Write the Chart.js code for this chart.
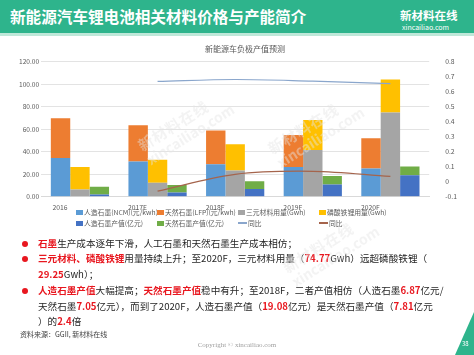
<!DOCTYPE html>
<html>
<head>
<meta charset="utf-8">
<script src="https://cdn.jsdelivr.net/npm/chart.js@4.4.0/dist/chart.umd.min.js"></script>
<style>
  html, body { margin: 0; padding: 0; background: #fff; }
  body { width: 474px; height: 355px; position: relative; overflow: hidden;
         font-family: "Noto Sans CJK SC", "Noto Sans", sans-serif; }
  .header { position: absolute; left: 0; top: 0; width: 474px; height: 33px; background: #2eb48c; }
  .header-line { position: absolute; left: 0; top: 33px; width: 474px; height: 3px; background: #bfe8d9; }
  .title { position: absolute; left: 10px; top: 5px; color: #fff; font-size: 15.6px; font-weight: bold; white-space: nowrap; }
  .logo1 { position: absolute; left: 400px; top: 7px; color: #fff; font-size: 11.5px; font-weight: bold; white-space: nowrap; }
  .logo2 { position: absolute; left: 402px; top: 22px; color: #fff; font-size: 7px; white-space: nowrap; }
  #chartBox { position: absolute; left: 0; top: 38px; width: 474px; height: 179px; }
  #legend { position: absolute; left: 76px; top: 207px; width: 330px; font-size: 6.8px; color: #595959; }
  .lg-item { position: absolute; white-space: nowrap; display: flex; align-items: center; }
  .lg-sw { display: inline-block; margin-right: 1px; }
  .line { position: absolute; left: 38px; font-size: 9.6px; color: #262626; white-space: nowrap; }
  .red { color: #e8171f; font-weight: bold; }
  .dot { position: absolute; left: 22px; width: 6px; height: 6px; border-radius: 50%; background: #e8171f; }
  .src { position: absolute; left: 20px; top: 329px; font-size: 7px; color: #404040; white-space: nowrap; }
  .copy { position: absolute; left: 0; width: 474px; top: 341px; text-align: center; font-family: "Liberation Serif", serif; font-size: 7px; color: #a0a0a0; }
  .corner { position: absolute; left: 455px; top: 312px; width: 19px; height: 43px; background: #2eb48c;
            clip-path: polygon(0 100%, 100% 0, 100% 100%); }
  .page { position: absolute; left: 462px; top: 339px; font-size: 6px; color: #fff; }
  .wm { position: absolute; color: rgba(228,228,228,0.45); font-weight: bold; line-height: 1.1;
        transform: rotate(-32deg); transform-origin: left top; white-space: nowrap; pointer-events: none; }
  .wm .a { font-size: 15px; letter-spacing: 1px; }
  .wm .b { font-size: 14px; }
</style>
</head>
<body>
<div class="header"></div>
<div class="header-line"></div>
<div class="title">新能源汽车锂电池相关材料价格与产能简介</div>
<div class="logo1">新材料在线</div>
<div class="logo2">xincailiao.com</div>

<div id="chartBox"><canvas id="chart"></canvas></div>
<div id="legend"></div>

<div class="dot" style="top:241px"></div>
<div class="line" style="top:236px"><span class="red">石墨</span>生产成本逐年下滑，人工石墨和天然石墨生产成本相仿；</div>
<div class="dot" style="top:256px"></div>
<div class="line" style="top:251px"><span class="red">三元材料、磷酸铁锂</span>用量持续上升；至2020F，三元材料用量（<span class="red">74.77</span>Gwh）远超磷酸铁锂（</div>
<div class="line" style="top:267px"><span class="red">29.25</span>Gwh）；</div>
<div class="dot" style="top:288px"></div>
<div class="line" style="top:283px"><span class="red">人造石墨产值</span>大幅提高；<span class="red">天然石墨产值</span>稳中有升；至2018F，二者产值相仿（人造石墨<span class="red">6.87</span>亿元/</div>
<div class="line" style="top:299px">天然石墨<span class="red">7.05</span>亿元），而到了2020F，人造石墨产值（<span class="red">19.08</span>亿元）是天然石墨产值（<span class="red">7.81</span>亿元</div>
<div class="line" style="top:314px">）的<span class="red">2.4</span>倍</div>
<div class="src">资料来源：GGII, 新材料在线</div>
<div class="copy">Copyright © xincailiao.com</div>
<div class="corner"></div>
<div class="page">38</div>

<div class="wm" style="left:135px;top:140px"><div class="a">新材料在线</div><div class="b">xincailiao.com</div></div>
<div class="wm" style="left:265px;top:143px"><div class="a">新材料在线</div><div class="b">xincailiao.com</div></div>
<div class="wm" style="left:280px;top:262px"><div class="a">新材料在线</div><div class="b">xincailiao.com</div></div>

<script>
// 年份
const categories = ['2016', '2017E', '2018F', '2019F', '2020F'];

// 价格 (元/kwh)
const ncmPrice = [34.5, 31.3, 28.9, 26.5, 25.1];
const lfpPrice = [35.3, 32.3, 29.9, 28.4, 26.8];

// 用量 (Gwh)
const ternaryUse = [6.5, 12.5, 23.3, 41.5, 74.77];
const lfpUse = [20.0, 20.3, 23.3, 26.6, 29.25];

// 产值 (亿元)
const artificialValue = [2.1, 3.8, 6.87, 11.0, 19.08];
const naturalValue = [6.9, 6.6, 7.05, 7.5, 7.81];

// 同比 (2016 无数据)
const yoyA = [null, 0.668, 0.681, 0.670, 0.654];
const yoyB = [null, -0.062, 0.05, 0.07, 0.036];

// 坐标轴刻度
const leftTicks = { min: 0, max: 120, step: 20 };
const rightTicks = { min: -0.1, max: 0.8, step: 0.1 };

const FONT = '"Noto Sans CJK SC", "Noto Sans", sans-serif';
const GREY = '#595959';

function bar(label, data, color, stack) {
  return { type: 'bar', label: label, data: data, backgroundColor: color, stack: stack, yAxisID: 'y',
           categoryPercentage: 0.75, barPercentage: 1.0, borderWidth: 0 };
}

function line(label, data, color) {
  return { type: 'line', label: label, data: data, borderColor: color, backgroundColor: color,
           borderWidth: 1.2, pointRadius: 0, tension: 0.35, yAxisID: 'y1', order: -1 };
}

const datasets = [
  bar('人造石墨(NCM)(元/kwh)', ncmPrice, '#5b9bd5', 'price'),
  bar('天然石墨(LFP)(元/kwh)', lfpPrice, '#ed7d31', 'price'),
  bar('三元材料用量(Gwh)', ternaryUse, '#a5a5a5', 'use'),
  bar('磷酸铁锂用量(Gwh)', lfpUse, '#ffc000', 'use'),
  bar('人造石墨产值(亿元)', artificialValue, '#4472c4', 'value'),
  bar('天然石墨产值(亿元)', naturalValue, '#70ad47', 'value'),
  line('同比', yoyA, '#8aa6cc'),
  line('同比', yoyB, '#a5644c')
];

// HTML 图例, 两行四列, 对齐 Excel 的排列
function buildLegend(chart) {
  const box = document.getElementById('legend');
  box.innerHTML = '';
  chart.data.datasets.forEach((ds, i) => {
    const item = document.createElement('div');
    item.className = 'lg-item';
    item.style.left = ((i % 4) * 81) + 'px';
    item.style.top = (Math.floor(i / 4) * 11) + 'px';
    const sw = document.createElement('span');
    sw.className = 'lg-sw';
    if (ds.type === 'line') {
      sw.style.width = '9px';
      sw.style.height = '1.2px';
      sw.style.background = ds.borderColor;
    } else {
      sw.style.width = '7px';
      sw.style.height = '5px';
      sw.style.background = ds.backgroundColor;
    }
    item.appendChild(sw);
    item.appendChild(document.createTextNode(ds.label));
    box.appendChild(item);
  });
}

const chart = new Chart(document.getElementById('chart'), {
  data: { labels: categories, datasets: datasets },
  options: {
    responsive: true,
    maintainAspectRatio: false,
    animation: false,
    layout: { padding: { left: 17, right: 1, top: 0, bottom: 0 } },
    plugins: {
      legend: { display: false },
      tooltip: { enabled: false },
      title: {
        display: true,
        text: '新能源车负极产值预测',
        color: GREY,
        font: { family: FONT, size: 8, weight: 'normal' },
        padding: { top: 6, bottom: 8 }
      }
    },
    scales: {
      x: {
        stacked: true,
        grid: { display: false, drawTicks: false },
        border: { display: true, color: '#d9d9d9' },
        ticks: { color: GREY, font: { family: FONT, size: 6.8 }, padding: 6, labelOffset: -20, maxRotation: 0 }
      },
      y: {
        stacked: true,
        position: 'left',
        min: leftTicks.min,
        max: leftTicks.max,
        grid: { color: '#e3e3e3', drawTicks: false },
        border: { display: false },
        ticks: { stepSize: leftTicks.step, color: GREY, font: { family: FONT, size: 6.6 }, padding: 2,
                 callback: v => v.toFixed(2) }
      },
      y1: {
        position: 'right',
        min: rightTicks.min,
        max: rightTicks.max,
        grid: { display: false, drawTicks: false },
        border: { display: false },
        ticks: { stepSize: rightTicks.step, color: GREY, font: { family: FONT, size: 6.8 }, padding: 16,
                 callback: v => String(Math.round(v * 10) / 10) }
      }
    }
  }
});

buildLegend(chart);
</script>
</body>
</html>
